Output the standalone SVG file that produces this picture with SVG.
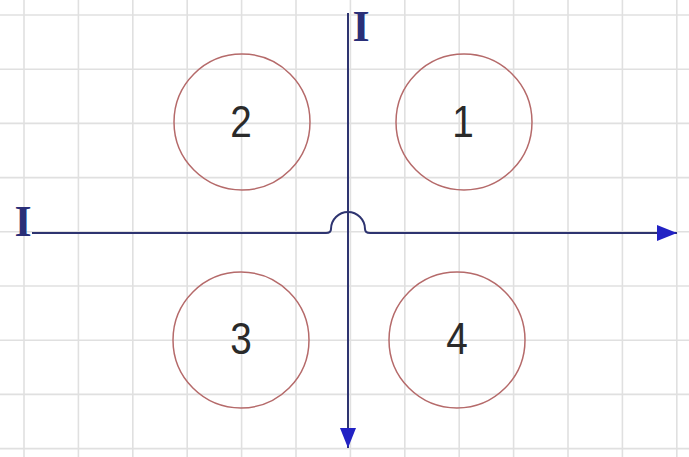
<svg xmlns="http://www.w3.org/2000/svg" width="689" height="457" viewBox="0 0 689 457">
  <style>
    .grid line { stroke: #e0e0e0; stroke-width: 1.6; }
    .ring { fill: none; stroke: #b56a6a; stroke-width: 1.5; }
    .num { font-family: "Liberation Sans", Arial, sans-serif; font-size: 44px; fill: #2a2a2a; text-anchor: middle; }
    .axis { fill: none; stroke: #2e3470; stroke-width: 2; }
    .lbl { font-family: "Liberation Serif", "Times New Roman", serif; font-weight: bold; font-size: 44px; fill: #2a2f78; text-anchor: middle; }
  </style>
  <defs>
    <marker id="arrow" viewBox="0 0 20 16" refX="20" refY="8" markerWidth="20" markerHeight="16" markerUnits="userSpaceOnUse" orient="auto">
      <path d="M0,0 L20,8 L0,16 Z" fill="#2222c4"/>
    </marker>
  </defs>
  <rect width="689" height="457" fill="#ffffff"/>
  <g class="grid" id="grid">
    <line x1="24" y1="0" x2="24" y2="457"/>
    <line x1="78.4" y1="0" x2="78.4" y2="457"/>
    <line x1="132.8" y1="0" x2="132.8" y2="457"/>
    <line x1="187.2" y1="0" x2="187.2" y2="457"/>
    <line x1="241.6" y1="0" x2="241.6" y2="457"/>
    <line x1="296" y1="0" x2="296" y2="457"/>
    <line x1="350.4" y1="0" x2="350.4" y2="457"/>
    <line x1="404.8" y1="0" x2="404.8" y2="457"/>
    <line x1="459.2" y1="0" x2="459.2" y2="457"/>
    <line x1="513.6" y1="0" x2="513.6" y2="457"/>
    <line x1="568" y1="0" x2="568" y2="457"/>
    <line x1="622.4" y1="0" x2="622.4" y2="457"/>
    <line x1="676.8" y1="0" x2="676.8" y2="457"/>
    <line x1="0" y1="15" x2="689" y2="15"/>
    <line x1="0" y1="69.2" x2="689" y2="69.2"/>
    <line x1="0" y1="123.4" x2="689" y2="123.4"/>
    <line x1="0" y1="177.6" x2="689" y2="177.6"/>
    <line x1="0" y1="231.8" x2="689" y2="231.8"/>
    <line x1="0" y1="286" x2="689" y2="286"/>
    <line x1="0" y1="340.2" x2="689" y2="340.2"/>
    <line x1="0" y1="394.4" x2="689" y2="394.4"/>
    <line x1="0" y1="448.6" x2="689" y2="448.6"/>
  </g>
  <g id="circle1"><circle class="ring" cx="464" cy="122" r="68"/><text class="num" transform="translate(463,137) scale(0.88,1)">1</text></g>
  <g id="circle2"><circle class="ring" cx="242" cy="122" r="68"/><text class="num" transform="translate(241,137) scale(0.88,1)">2</text></g>
  <g id="circle3"><circle class="ring" cx="241" cy="340" r="68"/><text class="num" transform="translate(241,354) scale(0.88,1)">3</text></g>
  <g id="circle4"><circle class="ring" cx="457" cy="340" r="68"/><text class="num" transform="translate(457,354) scale(0.88,1)">4</text></g>
  <g id="connectors">
    <path class="axis" d="M32,233 H326 Q331,233 331,229 A17,17 0 0 1 365,229 Q365,233 370,233 H677" marker-end="url(#arrow)"/>
    <path class="axis" d="M348,13 V448" marker-end="url(#arrow)"/>
  </g>
  <g id="label-top"><text class="lbl" x="361" y="41">I</text></g>
  <g id="label-left"><text class="lbl" x="23" y="236">I</text></g>
</svg>
